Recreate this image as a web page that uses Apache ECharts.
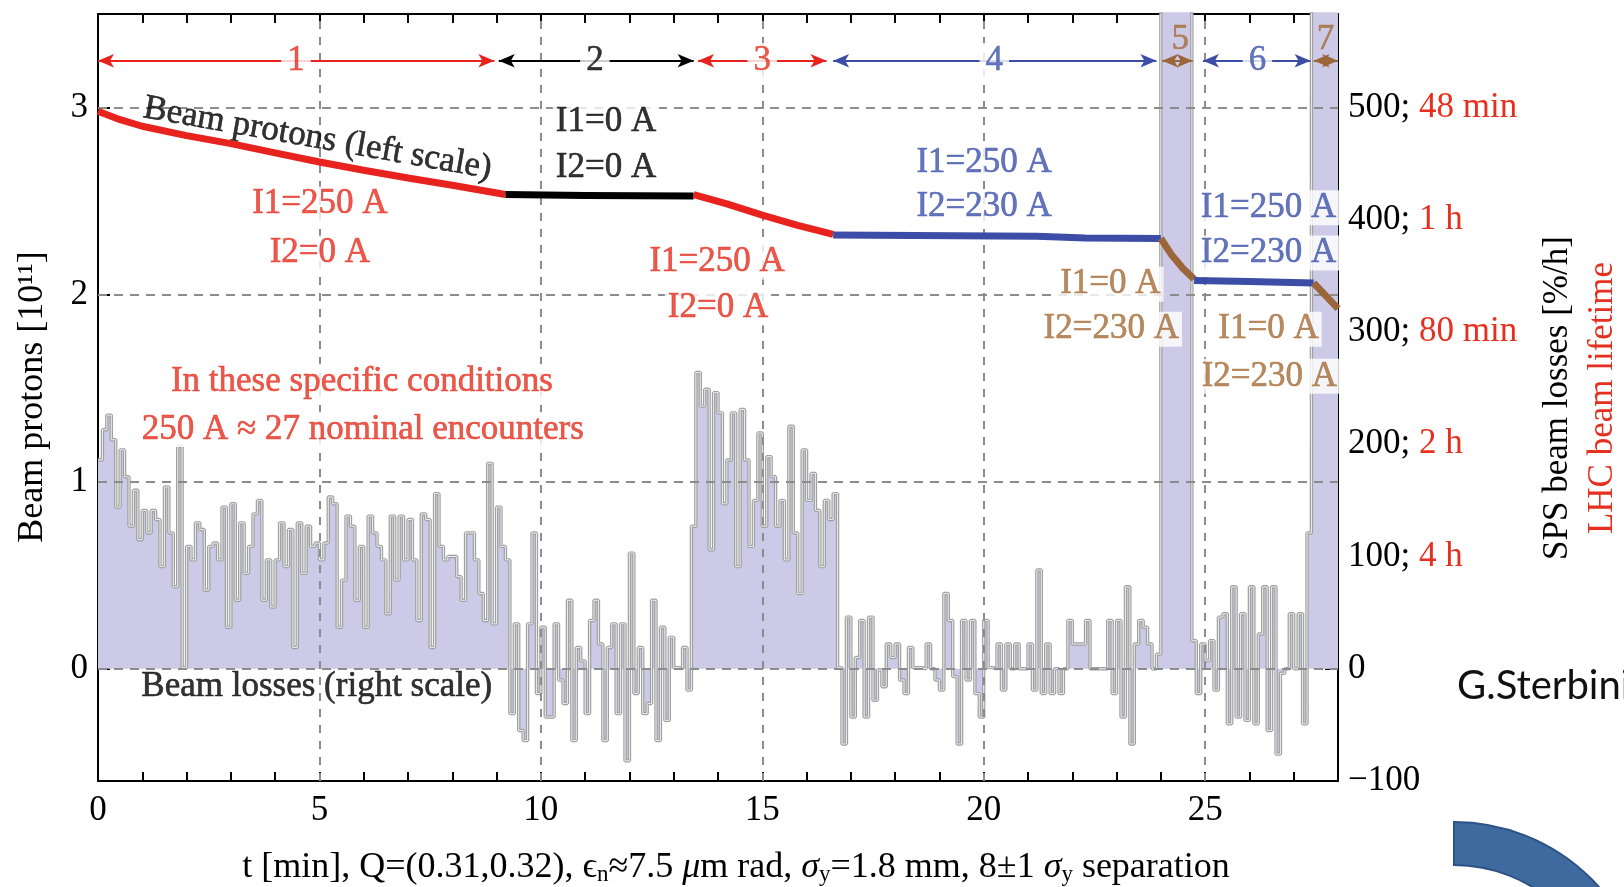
<!DOCTYPE html>
<html><head><meta charset="utf-8">
<script src="https://cdn.jsdelivr.net/npm/echarts@6/dist/echarts.min.js"></script>
<style>html,body{margin:0;padding:0;background:#fff}#c{width:1624px;height:887px}</style>
</head><body><div id="c"></div>
<script>
// ---------------- DATA ----------------
const xLabelled = [0, 5, 10, 15, 20, 25];
const leftTicks = [0, 1, 2, 3];
const lifetimeLabels = {500: '48 min', 400: '1 h', 300: '80 min', 200: '2 h', 100: '4 h'};

// Beam protons [1e11] (left scale), one array per phase
const beamSeg1 = [[0,2.98],[0.5,2.935],[1,2.90],[2,2.85],[3,2.807],[4,2.758],[5,2.709],[6,2.665],[7,2.623],[8,2.585],[9.2,2.535]];
const beamSeg2 = [[9.2,2.535],[11,2.53],[13.45,2.527]];
const beamSeg3 = [[13.45,2.535],[14.2,2.485],[15,2.425],[15.8,2.37],[16.6,2.322]];
const beamSeg4 = [[16.6,2.318],[21.2,2.312],[22.3,2.303],[24,2.30]];
const beamSeg5 = [[24,2.30],[24.25,2.21],[24.5,2.14],[24.75,2.083]];
const beamSeg6 = [[24.75,2.075],[26,2.07],[27.45,2.062]];
const beamSeg7 = [[27.45,2.062],[27.7,2.0],[28,1.925]];

// SPS beam losses [%/h] (right scale), one value per 0.1 min
const LOSS_DT = 0.1;
const lossSeg1 = [186,213,226,204,144,195,171,127,159,115,141,121,141,133,91,162,121,73,198,1,
  109,97,130,124,70,109,112,97,144,37,147,61,130,85,109,138,150,61,97,55,97,130,91,124,19,130,85,127,109,112,97,112,153,147,37,79,136,127,61,109,37,136,121,109,97,49,136,79,136,97,133,
  97,43,138,133,19,156,109,97,100,100,82,61,121,121,97,67,43,183,40,144,109,97];
const lossSeg2 = [-40,40,-55,-64,40,121,-22,37,-43,-43,40,-10,-31,61,-64,19,7,-40,43,61,22,-64,19,40,-40,40,-82,103,-22,19,-40,-31,61,-64,37,-46,28,1,0,19,-19];
const lossSeg3 = [127,264,234,249,106,246,228,147,186,228,91,231,186,109,150,210,127,189,171,127,150,97,216,121,67,195,150,174,141,91,150,133,156];
const lossSeg4 = [1,-67,46,-43,10,43,-43,46,-28,-1,-16,22,10,22,-10,-22,19,1,1,0,22,0,-10,-19,67,43,-7,-67,43,-10,43,-22,-43,43,1,0,22,-19,22,0,22,0,0,22,
  -19,88,-22,22,-22,0,-22,0,43,22,22,22,43,0,0,0,0,43,-22,43,-43,73,-67,22,43,37,22,0,13];
const lossBand5 = [900,900,900,900,900,900,900];   // off scale
const lossSeg6 = [25,-22,22,7,25,-19,46,49,-49,73,-43,49,-46,73,-49,31,73,-55,73,-76,-4,0,49,0,49,-49,121];
const lossBand7 = [900,900,900,900,900,900];       // off scale
const bandRanges = [[24.0, 24.7], [27.4, 28]];

// phases
const phaseNames = ['1','2','3','4','5','6','7'];
const phaseSpans = [[0,8.95],[9.05,13.45],[13.55,16.45],[16.6,23.9],[24.03,24.72],[24.95,27.38],[27.45,28]];

// ---------------- STYLE / LAYOUT ----------------
const FONT = 'Liberation Serif';
const FS = 35;
const C = {red:'#e8231e', blue:'#3b4da6', brown:'#9b6639', black:'#000000',
  tRed:'#e5301f', tBlue:'#3f52ab', tBrown:'#a56d38', lav:'#cdcae7', grid:'#8c8c8c'};
const phaseColors = [C.red, C.black, C.red, C.blue, C.brown, C.blue, C.brown];
const phaseTextColors = [C.tRed, C.black, C.tRed, C.tBlue, C.tBrown, C.tBlue, C.tBrown];
const ARROW_V = 3.25;
const phaseLabelPos = [[4.47,3.252],[11.22,3.252],[15.0,3.252],[20.24,3.252],[24.44,3.36],[26.18,3.252],[27.72,3.36]];
const phaseLabelBg = [true,true,true,true,false,true,false];

const notes = [
  {text:'Beam protons (left scale)', at:[4.96,2.834], color:C.black, rotate:-10, bg:false},
  {text:'I1=250 A', at:[5.01,2.485], color:C.tRed, bg:true},
  {text:'I2=0 A', at:[5.01,2.223], color:C.tRed, bg:true},
  {text:'I1=0 A', at:[11.47,2.925], color:C.black, bg:true},
  {text:'I2=0 A', at:[11.47,2.678], color:C.black, bg:true},
  {text:'I1=250 A', at:[13.98,2.174], color:C.tRed, bg:true},
  {text:'I2=0 A', at:[14.0,1.928], color:C.tRed, bg:true},
  {text:'I1=250 A', at:[20.01,2.705], color:C.tBlue, bg:true},
  {text:'I2=230 A', at:[20.01,2.469], color:C.tBlue, bg:true},
  {text:'I1=0 A', at:[22.86,2.056], color:C.tBrown, bg:true},
  {text:'I2=230 A', at:[22.88,1.815], color:C.tBrown, bg:true},
  {text:'I1=250 A', at:[26.43,2.464], color:C.tBlue, bg:true},
  {text:'I2=230 A', at:[26.43,2.223], color:C.tBlue, bg:true},
  {text:'I1=0 A', at:[26.43,1.815], color:C.tBrown, bg:true},
  {text:'I2=230 A', at:[26.45,1.563], color:C.tBrown, bg:true},
  {text:'In these specific conditions', at:[5.96,1.536], color:C.tRed, bg:true},
  {text:'250 A ≈ 27 nominal encounters', at:[5.98,1.279], color:C.tRed, bg:true},
  {text:'Beam losses (right scale)', at:[4.94,-0.099], color:C.black, bg:false}
];

// ---------------- BUILD ----------------
const lossValues = [].concat(lossSeg1, lossSeg2, lossSeg3, lossSeg4, lossBand5, lossSeg6, lossBand7);
const lossData = lossValues.map((v, i) => [Math.round(i * LOSS_DT * 100) / 100, v]);
lossData.push([28, lossValues[lossValues.length - 1]]);
const beamSegs = [beamSeg1, beamSeg2, beamSeg3, beamSeg4, beamSeg5, beamSeg6, beamSeg7];

const axisLineStyle = {show:true, onZero:false, lineStyle:{color:'#000', width:2}};
const labelBase = {fontFamily:FONT, fontSize:FS, color:'#000'};

const series = [];
series.push({type:'line', name:'losses', xAxisIndex:0, yAxisIndex:1, data:lossData, step:'end',
  symbol:'none', silent:true, z:2, lineStyle:{color:'#a0a0a0', width:3.4},
  areaStyle:{color:C.lav, opacity:1}});
series.push({type:'line', name:'losses-core', xAxisIndex:0, yAxisIndex:1, data:lossData, step:'end',
  symbol:'none', silent:true, z:3, lineStyle:{color:'#eeeeee', width:1}});
series.push({type:'line', name:'grid', xAxisIndex:0, yAxisIndex:0, data:[], z:4, silent:true,
  markLine:{silent:true, symbol:['none','none'], label:{show:false}, animation:false,
    lineStyle:{color:C.grid, width:2, type:[9,7]},
    data:[...leftTicks.map(v => ({yAxis:v})),
          ...xLabelled.filter(v => v > 0).map(v => ({xAxis:v, lineStyle:{color:C.grid, width:2, type:[8,8]}}))]}});
series.push({type:'scatter', name:'notes', xAxisIndex:0, yAxisIndex:0, z:6, silent:true, clip:false,
  symbolSize:0, itemStyle:{color:'transparent'},
  data: notes.map(n => ({value:n.at, label:{show:true, position:'inside', formatter:n.text, color:n.color,
    rotate:n.rotate || 0, fontFamily:FONT, fontSize:FS, textBorderColor:n.color, textBorderWidth:0.6,
    backgroundColor:n.bg ? '#fff' : 'transparent', padding:[0,3]}}))});
series.push({type:'line', name:'bands', xAxisIndex:0, yAxisIndex:0, data:[], z:7, silent:true,
  markArea:{silent:true, itemStyle:{color:C.lav, opacity:0.85},
    data: bandRanges.map(([a,b]) => [{coord:[a,0]},{coord:[b,3.5]}])}});
beamSegs.forEach((seg, i) => series.push({type:'line', name:'beam' + (i+1), xAxisIndex:0, yAxisIndex:0,
  data:seg, symbol:'none', silent:true, z:8, smooth:false,
  lineStyle:{color:phaseColors[i], width:7, cap:'butt', join:'round'}}));
series.push({type:'line', name:'arrows', xAxisIndex:0, yAxisIndex:0, data:[], z:9, silent:true,
  markLine:{silent:true, symbol:['arrow','arrow'], symbolSize:[10,16], label:{show:false}, animation:false,
    data: phaseSpans.map(([a,b], i) => [
      {coord:[a, ARROW_V], lineStyle:{color:phaseColors[i], width:2, type:'solid'}, itemStyle:{color:phaseColors[i]}},
      {coord:[b, ARROW_V]}])}});
series.push({type:'scatter', name:'phaseLabels', xAxisIndex:0, yAxisIndex:0, z:10, silent:true, clip:false,
  symbolSize:0, itemStyle:{color:'transparent'},
  data: phaseNames.map((n, i) => ({value:phaseLabelPos[i], label:{show:true, position:'inside', formatter:n,
    color:phaseTextColors[i], fontFamily:FONT, fontSize:FS, textBorderColor:phaseTextColors[i], textBorderWidth:0.5,
    backgroundColor:phaseLabelBg[i] ? '#fff' : 'transparent', padding:[0,6]}}))});

const option = {
  animation:false,
  backgroundColor:'#fff',
  grid:{left:98, right:286, top:14, bottom:106, containLabel:false, outerBoundsMode:'none'},
  xAxis:[
    {type:'value', min:0, max:28, interval:1, position:'bottom', axisLine:axisLineStyle,
     axisTick:{show:true, inside:true, length:9, lineStyle:{color:'#000', width:2}},
     axisLabel:{...labelBase, margin:12, formatter:v => (xLabelled.indexOf(v) >= 0 ? String(v) : '')},
     splitLine:{show:false}},
    {type:'value', min:0, max:28, interval:1, position:'top', axisLine:axisLineStyle,
     axisTick:{show:true, inside:true, length:9, lineStyle:{color:'#000', width:2}},
     axisLabel:{show:false}, splitLine:{show:false}}
  ],
  yAxis:[
    {type:'value', min:-0.6, max:3.5, position:'left', axisLine:axisLineStyle,
     axisTick:{show:true, inside:true, length:12, customValues:leftTicks, lineStyle:{color:'#000', width:2}},
     axisLabel:{...labelBase, margin:10, customValues:leftTicks, formatter:v => String(v)},
     splitLine:{show:false}},
    {type:'value', min:-100, max:3.5 * 500 / 3, interval:100, position:'right', axisLine:axisLineStyle,
     axisTick:{show:true, inside:true, length:13, lineStyle:{color:'#000', width:2}},
     axisLabel:{...labelBase, margin:10, showMaxLabel:false,
       formatter:v => { if (v === 0) return '0'; if (v === -100) return '−100';
         const s = lifetimeLabels[v]; return s ? v + '; {r|' + s + '}' : ''; },
       rich:{r:{color:C.tRed, fontFamily:FONT, fontSize:FS}}},
     splitLine:{show:false}}
  ],
  graphic:[
    {type:'text', x:33, y:397, rotation:Math.PI/2, z:100,
     style:{text:'Beam protons [10¹¹]', font:'36px "' + FONT + '"', fill:'#000', textAlign:'center', align:'center', textVerticalAlign:'middle', verticalAlign:'middle'}},
    {type:'text', x:1580, y:398, rotation:Math.PI/2, z:100,
     style:{text:'{a|SPS beam losses [%/h]}\n{b|LHC beam lifetime}', font:FS + 'px "' + FONT + '"',
       textAlign:'center', align:'center', textVerticalAlign:'middle', verticalAlign:'middle',
       rich:{a:{fill:'#000', fontFamily:FONT, fontSize:FS, lineHeight:45},
             b:{fill:C.tRed, fontFamily:FONT, fontSize:FS, lineHeight:45}}}},
    {type:'text', x:736, y:868, z:100,
     style:{text:'t [min], Q=(0.31,0.32), ϵ{s|n}≈7.5 {i|μ}m rad, {i|σ}{s|y}=1.8 mm, 8±1 {i|σ}{s|y} separation',
       font:'36px "' + FONT + '"', fill:'#000', textAlign:'center', align:'center', textVerticalAlign:'middle', verticalAlign:'middle',
       rich:{s:{fontFamily:FONT, fontSize:23, fill:'#000', verticalAlign:'bottom', lineHeight:15},
             i:{fontFamily:FONT, fontSize:36, fontStyle:'italic', fill:'#000'}}}},
    {type:'text', x:1457, y:686, z:100,
     style:{text:'G.Sterbini', font:'40px Lato', fill:'#111', textVerticalAlign:'middle', verticalAlign:'middle'}},
    {type:'sector', z:100, shape:{cx:1454, cy:1016, r:194, r0:151, startAngle:-Math.PI/2, endAngle:0, clockwise:true},
     style:{fill:'#3f6aa0', stroke:'#2d5285', lineWidth:2}}
  ],
  series: series
};

const chart = echarts.init(document.getElementById('c'), null, {renderer:'canvas', width:1624, height:887});
chart.setOption(option);
</script>
</body></html>
